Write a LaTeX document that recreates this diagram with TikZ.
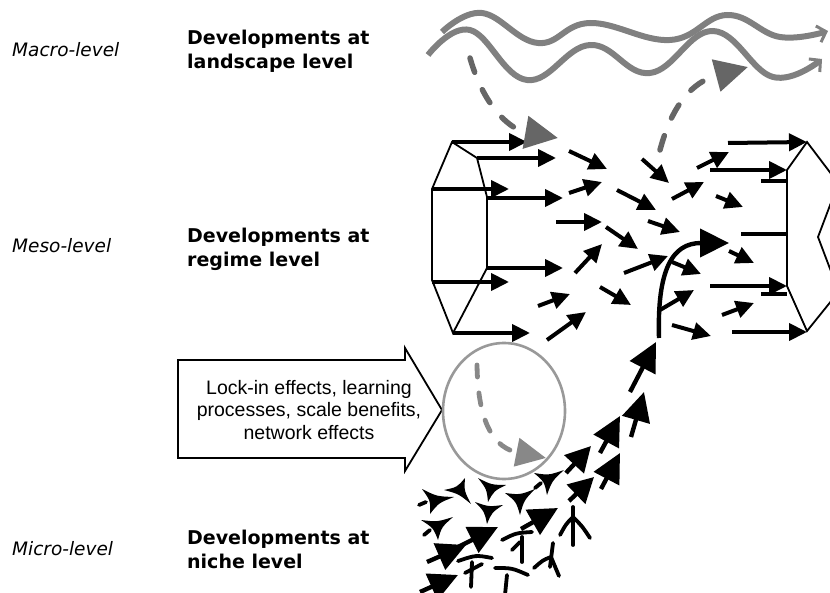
\documentclass[tikz,border=0pt]{standalone}
\usepackage{fontspec}
\setmainfont{DejaVu Sans}
\newfontfamily\boxfont{Liberation Sans}
\usetikzlibrary{arrows.meta,calc}
\definecolor{wavegray}{HTML}{808080}
\definecolor{dashgray}{HTML}{666666}
\definecolor{ringgray}{HTML}{999999}
\definecolor{innergray}{HTML}{888888}
% concave dart: three vertices, sides bowed slightly inwards
\newcommand\dart[3]{\fill[black] (#1) .. controls ($(#1)!.5!(#2)!.16!(#3)$) .. (#2)
  .. controls ($(#2)!.5!(#3)!.16!(#1)$) .. (#3)
  .. controls ($(#3)!.5!(#1)!.16!(#2)$) .. (#1) -- cycle;}
\begin{document}
\begin{tikzpicture}[x=1pt,y=-1pt,
  lvl/.style={font=\fontsize{18.5}{22}\selectfont\itshape, anchor=base west, inner sep=0pt},
  dev/.style={font=\fontsize{19}{24}\selectfont\bfseries, align=left, anchor=west, inner sep=0pt},
  frame/.style={line width=1.8pt, line join=miter},
  blk/.style={line width=4pt, -{Triangle[length=18pt,width=17pt]}},
  bar/.style={line width=4pt},
  big/.style={line width=4.4pt, -{Triangle[length=29pt,width=28pt]}},
  wave/.style={line width=6pt, draw=wavegray, -{Straight Barb[length=8pt,width=17pt,line width=3pt]}},
  gdash/.style={line width=5.5pt, draw=dashgray, line cap=round, dash pattern=on 15pt off 19pt, -{Triangle[length=33pt,width=32pt]}},
  idash/.style={line width=4.8pt, draw=innergray, line cap=round, dash pattern=on 12pt off 16pt, -{Triangle[length=30pt,width=28pt]}},
  ring/.style={line width=2.6pt, draw=ringgray},
  fork/.style={line width=3.8pt, line cap=round},
]
\useasboundingbox (0,0) rectangle (830,593);
\clip (0,0) rectangle (830,593);

% level labels
\node[lvl] (macro) at (12,57) {Macro-level};
\node[dev] (land) at (187,51) {Developments at\\landscape level};
\node[lvl] (meso) at (12,253) {Meso-level};
\node[dev] (regime) at (187,249) {Developments at\\regime level};
\node[lvl] (micro) at (12,555) {Micro-level};
\node[dev] (niche) at (187,549) {Developments at\\niche level};

% lock-in arrow box
\draw[frame] (178,360) -- (405,360) -- (405,348) -- (442,410) -- (405,471) -- (405,458) -- (178,458) -- cycle;
\node[font=\boxfont\fontsize{19.5}{22.5}\selectfont, align=center, inner sep=0pt] (lock) at (309,410)
  {Lock-in effects, learning\\processes, scale benefits,\\network effects};

% landscape waves
\draw[wave] plot[smooth, tension=0.7] coordinates {(442,32) (482,13) (538,43) (590,23) (670,40) (727,15) (780,37) (828,31)};
\draw[wave] plot[smooth, tension=0.7] coordinates {(428,55) (470,30) (527,80) (590,45) (650,73) (713,31) (773,77) (822,59)};

% regime: left end of the tube
\draw[frame] (452,142) -- (477,158) -- (487,197) -- (487,268) -- (453,333) -- (432,280) -- (432,189) -- cycle;
% regime: right end of the tube
\draw[frame] (832,175) -- (807,142) -- (787,170) -- (787,286) -- (807,331) -- (832,300);
\draw[frame] (832,200) -- (818,237) -- (832,274);

% arrows leaving the left end
\draw[blk] (452,142) -- (527,142);
\draw[blk] (477,158) -- (556,158);
\draw[blk] (432,189) -- (509,189);
\draw[blk] (487,198) -- (563,198);
\draw[blk] (487,268) -- (563,268);
\draw[blk] (432,282) -- (509,282);
\draw[blk] (453,333) -- (530,333);

% scattered regime arrows
\draw[blk] (569,151) -- (607,169);
\draw[blk] (569,193) -- (602,182);
\draw[blk] (556,222) -- (602,222);
\draw[blk] (606,227) -- (638,249);
\draw[blk] (575,273) -- (602,244);
\draw[blk] (538,306) -- (570,294);
\draw[blk] (547,340) -- (586,312);
\draw[blk] (617,190) -- (656,210);
\draw[blk] (642,159) -- (669,183);
\draw[blk] (648,221) -- (680,232);
\draw[blk] (624,273) -- (668,256);
\draw[blk] (600,287) -- (631,305);
\draw[blk] (672,199) -- (704,182);
\draw[blk] (697,168) -- (729,152);
\draw[blk] (716,196) -- (743,207);
\draw[blk] (729,251) -- (754,263);
\draw[blk] (722,315) -- (754,303);
\draw[blk] (672,262) -- (701,274);
\draw[blk] (660,310) -- (694,290);
\draw[blk] (672,325) -- (711,336);

% arrows reaching the right end
\draw[blk] (728,143) -- (807,142);
\draw[blk] (710,170) -- (787,170);
\draw[bar] (761,181) -- (787,181);
\draw[bar] (741,234) -- (787,234);
\draw[blk] (710,286) -- (787,286);
\draw[bar] (761,294) -- (787,294);
\draw[blk] (732,332) -- (807,332);

% breakthrough curve
\draw[big] (659,338) .. controls (657,270) and (672,243) .. (729,243);

% niche trajectory
\draw[big] (630,392) -- (656,342);
\draw[big] (631,437) -- (644,392);
\draw[big] (600,453) -- (620,416);
\draw[big] (601,489) -- (620,453);
\draw[big, -{Triangle[length=25pt,width=26pt]}] (566,473) -- (591,446);
\draw[big, -{Triangle[length=25pt,width=26pt]}] (569,501) -- (594,477);
\draw[big] (521,529) -- (558,508);
\draw[big] (458,547) -- (498,527);
\draw[big] (427,562) -- (466,545);
\draw[big] (420,592) -- (458,575);

% niche darts
\dart{422,489}{454,497}{430,514}
\draw[fork] (426,502) -- (419,505);
\dart{444,490}{465,478}{471,504}
\dart{478,478}{506,485}{488,502}
\dart{475,502}{503,505}{487,524}
\dart{505,493}{535,489}{520,515}
\dart{534,473}{564,470}{547,495}
\draw[fork] (541,483) -- (535,488);
\dart{421,520}{453,517}{438,540}
\draw[fork] (430,530) -- (424,535);

% niche forks
\draw[fork] (573,507) -- (573,545);
\draw[fork] (573,517) .. controls (566,524) .. (560,535);
\draw[fork] (573,517) .. controls (582,526) .. (590,538);
\draw[fork] (553,543) -- (550,567);
\draw[fork] (551,557) .. controls (543,560) .. (534,568);
\draw[fork] (551,557) .. controls (555,566) .. (559,576);
\draw[fork] (502,540) .. controls (516,533) .. (532,532);
\draw[fork] (522,537) -- (522,562);
\draw[fork] (512,550) -- (520,542);
\draw[fork] (458,561) .. controls (476,555) .. (492,558);
\draw[fork] (472,562) -- (471,587);
\draw[fork] (465,573) -- (482,564);
\draw[fork] (495,568) .. controls (512,568) .. (528,575);
\draw[fork] (507,575) -- (505,595);

% niche ring with inner dashed arrow
\draw[ring] (504,411) ellipse [x radius=61pt, y radius=68pt];
\draw[idash] (477,365) .. controls (478,425) and (495,448) .. (546,458);

% landscape pressure dashed arrows
\draw[gdash] (470,58) .. controls (485,110) and (512,130) .. (558,138);
\draw[gdash] (660,150) .. controls (672,105) and (692,82) .. (748,67);
\end{tikzpicture}
\end{document}
